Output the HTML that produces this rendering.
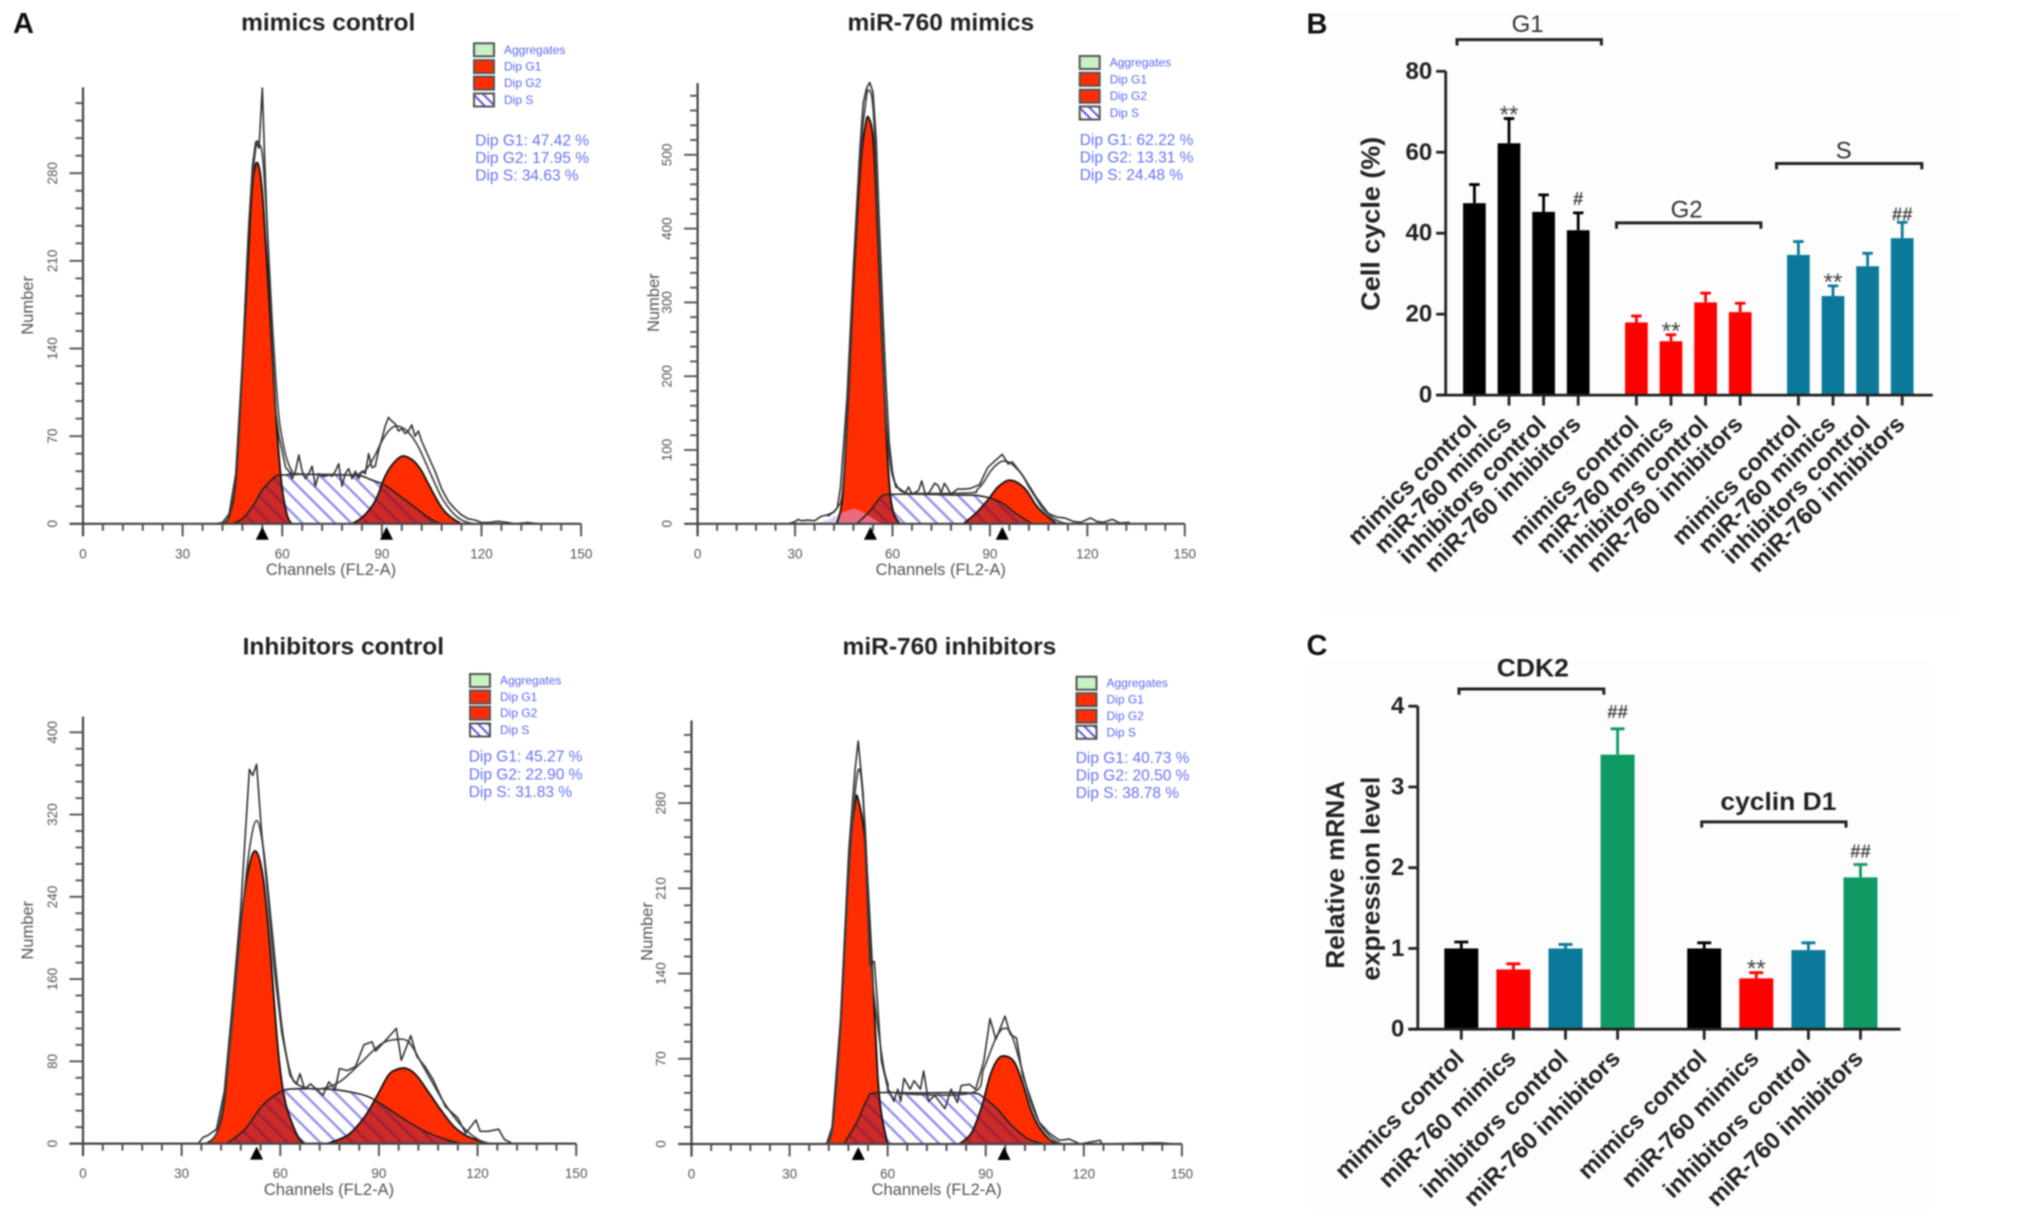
<!DOCTYPE html>
<html lang="en">
<head>
<meta charset="utf-8">
<title>Cell cycle histograms and bar charts</title>
<style>
html,body{margin:0;padding:0;background:#fff;}
body{width:2031px;height:1220px;overflow:hidden;}
#figure{display:block;filter:blur(0.85px);font-family:"Liberation Sans",sans-serif;}
.title{font-size:24.5px;font-weight:700;fill:#222;text-anchor:middle;dominant-baseline:central;}
.letter{font-size:29px;font-weight:700;fill:#111;text-anchor:middle;dominant-baseline:central;}
.legend-text{font-size:12px;fill:#5a68f0;dominant-baseline:central;}
.stat-text{font-size:15.5px;fill:#6474f0;dominant-baseline:central;}
.axis-title{font-size:16.5px;fill:#555;text-anchor:middle;dominant-baseline:central;}
.bar-y-title{font-size:26px;font-weight:700;fill:#222;text-anchor:middle;dominant-baseline:central;}
.group-label{font-size:24px;fill:#333;text-anchor:middle;dominant-baseline:central;}
.group-label-bold{font-size:25px;font-weight:700;fill:#222;text-anchor:middle;dominant-baseline:central;}
</style>
</head>
<body>
<svg id="figure" xmlns="http://www.w3.org/2000/svg" width="2031" height="1220" viewBox="0 0 2031 1220">
  <defs>
    <pattern id="hatch" patternUnits="userSpaceOnUse" width="11.5" height="11.5" patternTransform="rotate(-45)">
      <rect width="11.5" height="11.5" fill="#fff"/>
      <line x1="5" y1="0" x2="5" y2="11.5" stroke="#8c8cec" stroke-width="2.3"/>
    </pattern>
    <pattern id="hatch-overlap" patternUnits="userSpaceOnUse" width="11.5" height="11.5" patternTransform="rotate(-45)">
      <rect width="11.5" height="11.5" fill="#cc2b28"/>
      <line x1="5" y1="0" x2="5" y2="11.5" stroke="#9c2038" stroke-width="2.3"/>
    </pattern>
    <pattern id="hatch-small" patternUnits="userSpaceOnUse" width="7" height="7" patternTransform="rotate(-45)">
      <rect width="7" height="7" fill="#fff"/>
      <line x1="3" y1="0" x2="3" y2="7" stroke="#5a5ae0" stroke-width="2"/>
    </pattern>
  </defs>
  <rect width="2031" height="1220" fill="#fff"/>
  <rect x="1320" y="10" width="640" height="600" fill="#fdfdfd"/>
  <rect x="1310" y="660" width="620" height="550" fill="#fdfdfd"/>

  <text class="letter" x="23.5" y="24">A</text>
  <text class="letter" x="1317" y="24.5">B</text>
  <text class="letter" x="1317" y="646">C</text>

  <!-- Histogram 1 -->
  <g id="hist1">
    <text class="title" x="328.2" y="23">mimics control</text>
    <text class="axis-title" x="331" y="570">Channels (FL2-A)</text>
    <text class="axis-title" transform="translate(27.8 305.4) rotate(-90)">Number</text>
    <g transform="translate(474 49.8)">
      <rect x="0" y="-6.5" width="20" height="13" fill="#c6f2c6" stroke="#555" stroke-width="2"/>
      <text class="legend-text" x="30" y="0">Aggregates</text>
      <rect x="0" y="10.3" width="20" height="13" fill="#ff2d00" stroke="#555" stroke-width="2"/>
      <text class="legend-text" x="30" y="16.8">Dip G1</text>
      <rect x="0" y="26.8" width="20" height="13" fill="#ff2d00" stroke="#555" stroke-width="2"/>
      <text class="legend-text" x="30" y="33.3">Dip G2</text>
      <rect x="0" y="43.7" width="20" height="13" fill="url(#hatch-small)" stroke="#555" stroke-width="2"/>
      <text class="legend-text" x="30" y="50.2">Dip S</text>
    </g>
    <g transform="translate(475.3 141)">
      <text class="stat-text" x="0" y="0">Dip G1: 47.42 %</text>
      <text class="stat-text" x="0" y="17.6">Dip G2: 17.95 %</text>
      <text class="stat-text" x="0" y="35.2">Dip S: 34.63 %</text>
    </g>
  </g>

  <!-- Histogram 2 -->
  <g id="hist2">
    <text class="title" x="940.8" y="23">miR-760 mimics</text>
    <text class="axis-title" x="940.8" y="570">Channels (FL2-A)</text>
    <text class="axis-title" transform="translate(654 302.7) rotate(-90)">Number</text>
    <g transform="translate(1079.7 62.5)">
      <rect x="0" y="-6.5" width="20" height="13" fill="#c6f2c6" stroke="#555" stroke-width="2"/>
      <text class="legend-text" x="30" y="0">Aggregates</text>
      <rect x="0" y="10.3" width="20" height="13" fill="#ff2d00" stroke="#555" stroke-width="2"/>
      <text class="legend-text" x="30" y="16.8">Dip G1</text>
      <rect x="0" y="27.2" width="20" height="13" fill="#ff2d00" stroke="#555" stroke-width="2"/>
      <text class="legend-text" x="30" y="33.7">Dip G2</text>
      <rect x="0" y="44" width="20" height="13" fill="url(#hatch-small)" stroke="#555" stroke-width="2"/>
      <text class="legend-text" x="30" y="50.5">Dip S</text>
    </g>
    <g transform="translate(1079.7 140.6)">
      <text class="stat-text" x="0" y="0">Dip G1: 62.22 %</text>
      <text class="stat-text" x="0" y="17.4">Dip G2: 13.31 %</text>
      <text class="stat-text" x="0" y="35">Dip S: 24.48 %</text>
    </g>
  </g>

  <!-- Histogram 3 -->
  <g id="hist3">
    <text class="title" x="343.3" y="646.8">Inhibitors control</text>
    <text class="axis-title" x="329" y="1190">Channels (FL2-A)</text>
    <text class="axis-title" transform="translate(27.8 930.3) rotate(-90)">Number</text>
    <g transform="translate(470 680.5)">
      <rect x="0" y="-6.5" width="20" height="13" fill="#c6f2c6" stroke="#555" stroke-width="2"/>
      <text class="legend-text" x="30" y="0">Aggregates</text>
      <rect x="0" y="10" width="20" height="13" fill="#ff2d00" stroke="#555" stroke-width="2"/>
      <text class="legend-text" x="30" y="16.5">Dip G1</text>
      <rect x="0" y="26.1" width="20" height="13" fill="#ff2d00" stroke="#555" stroke-width="2"/>
      <text class="legend-text" x="30" y="32.6">Dip G2</text>
      <rect x="0" y="43" width="20" height="13" fill="url(#hatch-small)" stroke="#555" stroke-width="2"/>
      <text class="legend-text" x="30" y="49.5">Dip S</text>
    </g>
    <g transform="translate(468.7 756.8)">
      <text class="stat-text" x="0" y="0">Dip G1: 45.27 %</text>
      <text class="stat-text" x="0" y="18">Dip G2: 22.90 %</text>
      <text class="stat-text" x="0" y="35.6">Dip S: 31.83 %</text>
    </g>
  </g>

  <!-- Histogram 4 -->
  <g id="hist4">
    <text class="title" x="949.4" y="646.8">miR-760 inhibitors</text>
    <text class="axis-title" x="936.7" y="1190">Channels (FL2-A)</text>
    <text class="axis-title" transform="translate(647.4 931.5) rotate(-90)">Number</text>
    <g transform="translate(1076.5 683.2)">
      <rect x="0" y="-6.5" width="20" height="13" fill="#c6f2c6" stroke="#555" stroke-width="2"/>
      <text class="legend-text" x="30" y="0">Aggregates</text>
      <rect x="0" y="10" width="20" height="13" fill="#ff2d00" stroke="#555" stroke-width="2"/>
      <text class="legend-text" x="30" y="16.5">Dip G1</text>
      <rect x="0" y="26.5" width="20" height="13" fill="#ff2d00" stroke="#555" stroke-width="2"/>
      <text class="legend-text" x="30" y="33">Dip G2</text>
      <rect x="0" y="42.6" width="20" height="13" fill="url(#hatch-small)" stroke="#555" stroke-width="2"/>
      <text class="legend-text" x="30" y="49.1">Dip S</text>
    </g>
    <g transform="translate(1075.7 758.3)">
      <text class="stat-text" x="0" y="0">Dip G1: 40.73 %</text>
      <text class="stat-text" x="0" y="17.6">Dip G2: 20.50 %</text>
      <text class="stat-text" x="0" y="35.3">Dip S: 38.78 %</text>
    </g>
  </g>

  <!-- Bar chart B -->
  <g id="chartB">
    <text class="bar-y-title" transform="translate(1370.5 223.7) rotate(-90)" textLength="174" lengthAdjust="spacingAndGlyphs">Cell cycle (%)</text>
    <text class="group-label" x="1527.6" y="24.5">G1</text>
    <text class="group-label" x="1686.6" y="209.8">G2</text>
    <text class="group-label" x="1843.7" y="151.2">S</text>
    <path d="M1457 45.5V39.6H1601.4V45.5" fill="none" stroke="#222" stroke-width="3"/>
    <path d="M1616.5 228.8V222.9H1760.9V228.8" fill="none" stroke="#222" stroke-width="3"/>
    <path d="M1776.5 169.4V163.5H1921.8V169.4" fill="none" stroke="#222" stroke-width="3"/>
  </g>

  <!-- Bar chart C -->
  <g id="chartC">
    <text class="bar-y-title" transform="translate(1335 874.8) rotate(-90)" textLength="188" lengthAdjust="spacingAndGlyphs">Relative mRNA</text>
    <text class="bar-y-title" transform="translate(1370.5 878.6) rotate(-90)" textLength="204" lengthAdjust="spacingAndGlyphs">expression level</text>
    <text class="group-label-bold" x="1532.8" y="668.7" textLength="72" lengthAdjust="spacingAndGlyphs">CDK2</text>
    <text class="group-label-bold" x="1778.4" y="802" textLength="116" lengthAdjust="spacingAndGlyphs">cyclin D1</text>
    <path d="M1459 694.7V689H1603.8V694.7" fill="none" stroke="#222" stroke-width="3"/>
    <path d="M1701.7 827.6V821.9H1846V827.6" fill="none" stroke="#222" stroke-width="3"/>
  </g>
</svg>

<script>
// ---------- Histogram axes data ----------
const histXTicks = [0, 30, 60, 90, 120, 150];
const p1YTicks = [0, 70, 140, 210, 280];
const p2YTicks = [0, 100, 200, 300, 400, 500];
const p3YTicks = [0, 80, 160, 240, 320, 400];
const p4YTicks = [0, 70, 140, 210, 280];

// ---------- Histogram 1: mimics control ----------
const p1G1Ch = [42,44,46,48,50,51,52,53,54,55,56,57,58,59,60,61,62,63];
const p1G1N = [0,6,35,125,225,270,287,285,265,225,180,135,90,55,28,12,3,0];
const p1G2Ch = [81,84,87,89,90,92,94,96,98,100,102,104,106,108,110,112,114];
const p1G2N = [0,5,14,24,32,43,50,54,53,49,42,32,22,13,7,3,0];
const p1SCh = [45,48,50,52,54,56,58,60,70,80,84,86,88,90,92,94,96,98,100,102,104,106,108];
const p1SN = [0,4,10,18,27,33,38,39,39.5,39,38,36,34,32,29,25,21,17,13,9,5,2,0];
const p1FitCh = [42,44,46,48,50,52,53,54,55,56,57,58,59,60,61,62,63,64,80,84,86,88,90,92,94,96,98,100,102,104,106,108,110,112,114,116,118];
const p1FitN = [0,7,38,125,240,300,303,295,260,210,160,118,85,68,55,47,42,40,39,41,46,55,66,74,78,77,73,66,56,44,32,21,13,7,3,1,0];
const p1RawCh = [40,42,44,46,48,50,51,52,53,54,55,56,57,58,59,60,61,62,63,64,65,66,67,68,69,70,71,72,73,74,75,76,77,78,79,80,81,82,83,84,85,86,87,88,89,90,91,92,93,94,95,96,97,98,99,100,101,102,104,106,108,110,112,114,116,118,120,122,125,128,130,134,137];
const p1RawN = [0,1,8,40,130,240,285,305,300,348,270,200,140,90,70,58,45,42,36,42,55,42,36,40,46,30,40,38,38,39,38,42,48,30,40,44,36,42,36,42,40,56,45,46,58,68,78,85,82,80,74,76,72,74,79,70,74,66,54,42,28,18,12,7,4,3,1,1,2,1,0,1,0];
const p1Markers = [54, 91.4];

// ---------- Histogram 2: miR-760 mimics ----------
const p2G1Ch = [42.8,44.7,46.6,48.4,50.3,51.6,52.6,54.1,55.4,56.6,57.9,59.1,60.4,62.3];
const p2G1N = [0,40,190,357,492,538,551,518,398,268,139,50,14,0];
const p2G2Ch = [81.8,85.6,89.3,92.5,96.3,100.7,104.4,108,110.7];
const p2G2N = [0,14,32,50,59,48,24,9,0];
const p2SCh = [49,53,56.6,59.8,70,80,86.8,93,98,103];
const p2SN = [0,17,37,40,40,39,38,30,14,0];
const p2DebrisCh = [36,40,43,45,47,48.4,50,52,54,56,57];
const p2DebrisN = [0,5,12,16,19,20,18,13,7,2,0];
const p2FitCh = [40,43,44.7,46.6,48.4,50.3,51.6,52.6,54.1,55.4,56.6,57.9,59.1,60,62,64,66,84,86,88,90,92,94,96,98,100,102,104,106,108,110,112,114];
const p2FitN = [10,22,50,200,370,510,565,588,560,420,285,150,90,65,47,42,41,42,46,56,70,80,85,83,76,66,50,36,22,13,6,2,0];
const p2RawCh = [28,30,31,32,34,36,38,40,42,43,44,46,48,50,51,52,53,54,55,56,57,58,59,60,61,62,64,65,66,68,69,70,71,73,74,75,76,77,78,80,82,84,86.8,89.3,91.2,93.8,95.6,96.9,100,102.6,104.4,108,110.7,113,115.8,118,121,123,125,127.7,130,133];
const p2RawN = [0,3,6,4,5,4,10,12,16,22,50,170,350,510,570,590,598,585,520,400,290,190,110,70,50,48,42,50,40,45,58,42,40,55,52,42,55,48,40,47,47,48,53,76,84,94,81,84,66,48,35,14,9,8,3,2,8,3,2,6,1,2];
const p2Markers = [53.2, 93.8];

// ---------- Histogram 3: inhibitors control ----------
const p3G1Ch = [37.5,40.6,43.1,45.6,48.1,50.6,52.7,54.9,56.8,59.3,61.1,63,65.5,67.4];
const p3G1N = [0,10,44,137,219,271,284,256,193,92,47,25,6,0];
const p3G2Ch = [74.2,80.4,85.4,89,92.8,95.3,98.4,101.5,105.3,109,112.7,116.4,120.2,123.3];
const p3G2N = [0,8,25,44,66,72,73,66,49,32,17,8,3,0];
const p3SCh = [43.7,49.3,54.3,59.3,63,74.2,81.6,87.2,92.8,99,105.3,111.5,115];
const p3SN = [0,14,36,49,53,53,50,45,34,21,10,3,0];
const p3FitCh = [38,40.6,43,45.6,48,50.6,52.8,54.9,57.4,60.5,63,65.5,71.7,78,84,90.3,94.7,99,102.8,106.5,110.2,115.2,120.2,124];
const p3FitN = [0,10,45,125,211,286,314,286,211,114,70,57,53,60,77,96,101,99,79,58,38,17,4,0];
const p3RawCh = [35,36.5,38,40.6,43,45.6,48,50.6,51.6,52.8,54.3,56.2,58,60.5,63,64.9,66,67.4,69.2,71,73,74.8,76.7,78,80.4,82.9,85.4,87.9,89,92.2,95.3,96.8,99.7,101.5,104,106.5,110.2,114,116.4,119.5,120.8,123.3,126.4,128.2,130.7];
const p3RawN = [0,6,8,14,51,140,230,364,358,369,304,241,174,107,66,58,68,53,58,53,47,60,53,73,71,75,96,99,90,101,112,81,105,85,75,62,36,25,10,23,12,12,14,4,0];
const p3Markers = [52.8];

// ---------- Histogram 4: miR-760 inhibitors ----------
const p4G1Ch = [41.3,43,45.6,48.1,50,51,53.1,55,56.9,58.1,60];
const p4G1N = [0,12,100,229,279,283,248,160,59,25,0];
const p4G2Ch = [81.9,85.6,88.8,91.3,93.8,96.3,98.8,101.3,103.8,106.3,109.4,111.9];
const p4G2N = [0,9,31,56,70,72,67,50,28,14,4,0];
const p4SCh = [46.6,50.6,53.8,56.3,70,85.6,89.4,93.8,98,103,108];
const p4SN = [0,18,37,42,42,42,38,28,15,4,0];
const p4FitCh = [41.3,43,45.6,48.1,51,53.1,55,58.1,60,62.5,85.6,89.4,93.1,95.6,98,101.3,103.8,106.9,110.6,113.1];
const p4FitN = [0,10,97,222,307,260,147,75,50,42,42,62,87,95,89,59,34,15,4,0];
const p4RawCh = [41.3,43,45.6,48.1,50,51,52.5,54.6,55.9,56.9,58.1,60,61.9,63.1,64,65,66.9,68.1,70,71,72.5,74.4,77.5,79.4,81.3,82.5,85,86.9,89.4,91.3,93.1,95.9,97.5,99.4,101.3,103.8,106.3,109.4,112.5,115.6,118.8,125,125.6,143,148];
const p4RawN = [0,14,103,241,307,331,288,147,150,116,68,46,35,45,35,54,45,52,45,60,35,40,29,45,34,48,49,45,68,103,86,105,90,87,56,37,18,9,3,4,0,3,0,1,0];
const p4Markers = [51, 95.6];

// ---------- Bar chart B ----------
const bCategories = ['mimics control','miR-760 mimics','inhibitors control','miR-760 inhibitors'];
const bYTicks = [0,20,40,60,80];
const bG1Values = [47.42,62.22,45.27,40.73];
const bG1Errors = [4.6,6.1,4.2,4.3];
const bG1Marks = ['','**','','#'];
const bG2Values = [17.95,13.31,22.90,20.50];
const bG2Errors = [1.6,1.6,2.3,2.2];
const bG2Marks = ['','**','',''];
const bSValues = [34.63,24.48,31.83,38.78];
const bSErrors = [3.3,2.5,3.2,3.9];
const bSMarks = ['','**','','##'];

// ---------- Bar chart C ----------
const cCategories = ['mimics control','miR-760 mimics','inhibitors control','miR-760 inhibitors'];
const cYTicks = [0,1,2,3,4];
const cCdk2Values = [1.0,0.74,1.0,3.4];
const cCdk2Errors = [0.08,0.07,0.05,0.32];
const cCdk2Marks = ['','','','##'];
const cCyclinValues = [1.0,0.63,0.98,1.88];
const cCyclinErrors = [0.07,0.07,0.09,0.16];
const cCyclinMarks = ['','**','','##'];

// ---------- Helpers ----------
const NS = 'http://www.w3.org/2000/svg';
function mk(tag, parent, attrs) {
  const el = document.createElementNS(NS, tag);
  for (const k in attrs) el.setAttribute(k, attrs[k]);
  parent.appendChild(el);
  return el;
}
function linear(d0, d1, r0, r1) {
  return function (v) { return r0 + (v - d0) * (r1 - r0) / (d1 - d0); };
}
function smoothPath(chs, ns, xs, ys, y0) {
  const pts = chs.map(function (c, i) { return [xs(c), ys(ns[i])]; });
  let d = 'M' + pts[0][0].toFixed(1) + ' ' + pts[0][1].toFixed(1);
  for (let i = 0; i < pts.length - 1; i++) {
    const p0 = pts[Math.max(0, i - 1)], p1 = pts[i], p2 = pts[i + 1], p3 = pts[Math.min(pts.length - 1, i + 2)];
    const c1x = p1[0] + (p2[0] - p0[0]) / 6, c1y = Math.min(y0, p1[1] + (p2[1] - p0[1]) / 6);
    const c2x = p2[0] - (p3[0] - p1[0]) / 6, c2y = Math.min(y0, p2[1] - (p3[1] - p1[1]) / 6);
    d += 'C' + c1x.toFixed(1) + ' ' + c1y.toFixed(1) + ' ' + c2x.toFixed(1) + ' ' + c2y.toFixed(1) + ' ' + p2[0].toFixed(1) + ' ' + p2[1].toFixed(1);
  }
  return d;
}
function polyPath(chs, ns, xs, ys) {
  return chs.map(function (c, i) { return (i ? 'L' : 'M') + xs(c).toFixed(1) + ' ' + ys(ns[i]).toFixed(1); }).join('');
}

function drawHistogram(id, frame, yTicks, minorStep, d) {
  const root = document.getElementById(id);
  const g = mk('g', root, {});
  
  
  const xs = linear(0, 150, frame.x0, frame.x150);
  const topTick = yTicks[yTicks.length - 1];
  const ys = linear(0, topTick, frame.y0, frame.yRef);
  const g1Line = smoothPath(d.g1Ch, d.g1N, xs, ys, frame.y0);
  const g2Line = smoothPath(d.g2Ch, d.g2N, xs, ys, frame.y0);
  const sLine = smoothPath(d.sCh, d.sN, xs, ys, frame.y0);

  const clip = mk('clipPath', g, { id: id + '-red-clip' });
  mk('path', clip, { d: g1Line + 'Z' });
  mk('path', clip, { d: g2Line + 'Z' });

  const s3 = mk('path', g, { d: sLine + 'Z', fill: 'url(#hatch)' });
  
  
  if (d.debrisCh) {
    const deb = mk('path', g, { d: smoothPath(d.debrisCh, d.debrisN, xs, ys, frame.y0) + 'Z', fill: '#d6d2f2' });
    
    
  }
  const s1 = mk('path', g, { d: g1Line + 'Z', fill: '#ff2d00' });
  
  
  const s2 = mk('path', g, { d: g2Line + 'Z', fill: '#ff2d00' });
  
  
  const over = mk('path', g, { d: sLine + 'Z', fill: 'url(#hatch-overlap)', 'clip-path': 'url(#' + id + '-red-clip)' });
  
  
  if (d.debrisCh) {
    const debOver = mk('path', g, { d: smoothPath(d.debrisCh, d.debrisN, xs, ys, frame.y0) + 'Z', fill: '#ec6a80', 'clip-path': 'url(#' + id + '-red-clip)' });
    
    
  }
  const o1 = mk('path', g, { d: g1Line, fill: 'none', stroke: '#111', 'stroke-width': 1.8 });
  
  
  const o2 = mk('path', g, { d: g2Line, fill: 'none', stroke: '#111', 'stroke-width': 1.8 });
  
  
  const s3b = mk('path', g, { d: sLine, fill: 'none', stroke: '#222', 'stroke-width': 1.6 });
  
  
  const fit = mk('path', g, { d: smoothPath(d.fitCh, d.fitN, xs, ys, frame.y0), fill: 'none', stroke: '#444', 'stroke-width': 1.7 });
  
  
  const raw = mk('path', g, { d: polyPath(d.rawCh, d.rawN, xs, ys), fill: 'none', stroke: '#333', 'stroke-width': 1.6, 'stroke-linejoin': 'round' });
  
  

  // axes
  const ax = mk('path', g, { d: 'M' + xs(0) + ' ' + frame.yTop + 'V' + (frame.y0 + 12.5) + 'M' + (xs(0) - 13.5) + ' ' + frame.y0 + 'H' + xs(150), fill: 'none', stroke: '#444', 'stroke-width': 2.2 });
  
  
  for (let v = 6; v <= 150; v += 6) {
    const major = v % 30 === 0;
    const t = mk('line', g, { x1: xs(v), x2: xs(v), y1: frame.y0, y2: frame.y0 + (major ? 12.5 : 7), stroke: '#555', 'stroke-width': 2 });
    
    
  }
  for (let v = minorStep; ys(v) >= frame.yTop; v += minorStep) {
    const major = yTicks.indexOf(v) >= 0;
    const t = mk('line', g, { x1: xs(0) - (major ? 13.5 : 7.5), x2: xs(0), y1: ys(v), y2: ys(v), stroke: '#555', 'stroke-width': 1.9 });
    
    
  }
  histXTicks.forEach(function (v) {
    const t = mk('text', g, { x: xs(v), y: frame.y0 + 30, 'font-size': 13.5, fill: '#555', 'text-anchor': 'middle', 'dominant-baseline': 'central' });
    t.textContent = v;
    
    
  });
  yTicks.forEach(function (v) {
    const t = mk('text', g, { transform: 'translate(' + (xs(0) - 30.5) + ' ' + ys(v) + ') rotate(-90)', 'font-size': 13.5, fill: '#555', 'text-anchor': 'middle', 'dominant-baseline': 'central' });
    t.textContent = v;
    
    
  });
  d.markers.forEach(function (m) {
    const x = xs(m);
    const t = mk('path', g, { d: 'M' + (x - 6.5) + ' ' + (frame.y0 + 16) + 'L' + x + ' ' + (frame.y0 + 3) + 'L' + (x + 6.5) + ' ' + (frame.y0 + 16) + 'Z', fill: '#000' });
    
    
  });
}

drawHistogram('hist1', { x0: 83, x150: 581.1, y0: 523.8, yRef: 173.2, yTop: 87.4 }, p1YTicks, 14, {
  g1Ch: p1G1Ch, g1N: p1G1N, g2Ch: p1G2Ch, g2N: p1G2N, sCh: p1SCh, sN: p1SN, fitCh: p1FitCh, fitN: p1FitN, rawCh: p1RawCh, rawN: p1RawN, markers: p1Markers
});
drawHistogram('hist2', { x0: 697.6, x150: 1184.8, y0: 523.8, yRef: 154.8, yTop: 83.1 }, p2YTicks, 20, {
  g1Ch: p2G1Ch, g1N: p2G1N, g2Ch: p2G2Ch, g2N: p2G2N, sCh: p2SCh, sN: p2SN, debrisCh: p2DebrisCh, debrisN: p2DebrisN, fitCh: p2FitCh, fitN: p2FitN, rawCh: p2RawCh, rawN: p2RawN, markers: p2Markers
});
drawHistogram('hist3', { x0: 83, x150: 576.2, y0: 1143.6, yRef: 732.3, yTop: 716.6 }, p3YTicks, 16, {
  g1Ch: p3G1Ch, g1N: p3G1N, g2Ch: p3G2Ch, g2N: p3G2N, sCh: p3SCh, sN: p3SN, fitCh: p3FitCh, fitN: p3FitN, rawCh: p3RawCh, rawN: p3RawN, markers: p3Markers
});
drawHistogram('hist4', { x0: 691.5, x150: 1181.9, y0: 1144, yRef: 803.1, yTop: 720.4 }, p4YTicks, 14, {
  g1Ch: p4G1Ch, g1N: p4G1N, g2Ch: p4G2Ch, g2N: p4G2N, sCh: p4SCh, sN: p4SN, fitCh: p4FitCh, fitN: p4FitN, rawCh: p4RawCh, rawN: p4RawN, markers: p4Markers
});

// ---------- Bar charts ----------
function drawBars(id, frame, yTicks, categories, groups) {
  const root = document.getElementById(id);
  const g = mk('g', root, {});
  
  
  const ys = linear(0, yTicks[yTicks.length - 1], frame.y0, frame.yTopPx);
  function bandX(groupIndex, catIndex) {
    return frame.start + (groupIndex * categories.length + catIndex) * frame.step + groupIndex * frame.gap;
  }
  groups.forEach(function (grp, gi) {
    grp.values.forEach(function (v, i) {
      const x = bandX(gi, i);
      const color = grp.colors[i];
      const rect = mk('rect', g, { x: x - frame.barW / 2, y: ys(v), width: frame.barW, height: frame.y0 - ys(v), fill: color });
      
      
      const top = v + grp.errors[i];
      const err = mk('path', g, { d: 'M' + x + ' ' + ys(v) + 'V' + ys(top) + 'M' + (x - frame.capW / 2) + ' ' + ys(top) + 'H' + (x + frame.capW / 2), stroke: color, 'stroke-width': 2.8, fill: 'none' });
      
      
      const mark = grp.marks[i];
      if (mark) {
        const isStar = mark.charAt(0) === '*';
        const dy = isStar ? 4 : (mark === '##' ? grp.hashDy : -8);
        const t = mk('text', g, { x: x, y: ys(top) + dy, 'font-size': isStar ? 24 : 18.5, 'font-weight': isStar ? 400 : 700, fill: '#444', 'text-anchor': 'middle' });
        t.textContent = mark;
        
        
      }
      const tick = mk('line', g, { x1: x, x2: x, y1: frame.y0, y2: frame.y0 + 10.5, stroke: '#222', 'stroke-width': 2.8 });
      
      
      const lab = mk('text', g, { transform: 'translate(' + (x + 4) + ' ' + (frame.y0 + 30.5) + ') rotate(-45)', 'font-size': 24, 'font-weight': 700, fill: '#222', 'text-anchor': 'end' });
      lab.textContent = categories[i];
      
      
    });
  });
  const axis = mk('path', g, { d: 'M' + frame.xAxis + ' ' + ys(yTicks[yTicks.length - 1]) + 'V' + frame.y0 + 'M' + (frame.xAxis - 9.5) + ' ' + frame.y0 + 'H' + frame.xEnd, fill: 'none', stroke: '#222', 'stroke-width': 2.8 });
  
  
  yTicks.forEach(function (v) {
    const t = mk('line', g, { x1: frame.xAxis - 9.5, x2: frame.xAxis, y1: ys(v), y2: ys(v), stroke: '#222', 'stroke-width': 2.8 });
    
    
    const l = mk('text', g, { x: frame.xAxis - 13.5, y: ys(v), 'font-size': 24, 'font-weight': 700, fill: '#222', 'text-anchor': 'end', 'dominant-baseline': 'central' });
    l.textContent = v;
    
    
  });
}

const black = '#000000', red = '#ff0000', teal = '#0b7a9a', green = '#0f9a63';
drawBars('chartB', { y0: 395.1, yTopPx: 71.3, start: 1474.4, step: 34.6, gap: 23.6, barW: 22.7, capW: 10.5, xAxis: 1445.7, xEnd: 1932.7 }, bYTicks, bCategories, [
  { values: bG1Values, errors: bG1Errors, marks: bG1Marks, colors: [black, black, black, black], hashDy: -3 },
  { values: bG2Values, errors: bG2Errors, marks: bG2Marks, colors: [red, red, red, red], hashDy: -3 },
  { values: bSValues, errors: bSErrors, marks: bSMarks, colors: [teal, teal, teal, teal], hashDy: -2 }
]);
drawBars('chartC', { y0: 1029.2, yTopPx: 706.2, start: 1461.3, step: 52.1, gap: 34.5, barW: 34, capW: 14, xAxis: 1417.8, xEnd: 1900.5 }, cYTicks, cCategories, [
  { values: cCdk2Values, errors: cCdk2Errors, marks: cCdk2Marks, colors: [black, red, teal, green], hashDy: -11 },
  { values: cCyclinValues, errors: cCyclinErrors, marks: cCyclinMarks, colors: [black, red, teal, green], hashDy: -7 }
]);
</script>
</body>
</html>
